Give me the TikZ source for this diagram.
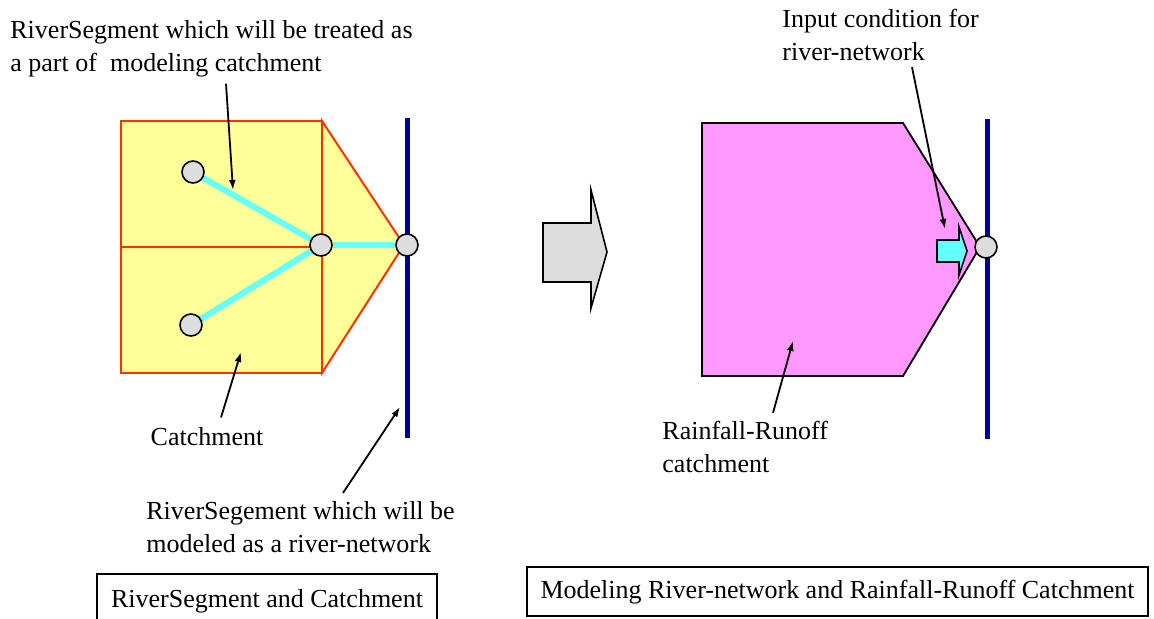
\documentclass[tikz,border=0pt]{standalone}
\usepackage{fontspec}
\setmainfont{Liberation Serif}
\usepackage{tikz}
\usetikzlibrary{arrows, arrows.meta, backgrounds, calc, positioning}

\definecolor{catchyellow}{HTML}{FFFF99}
\definecolor{catchred}{HTML}{FF3300}
\definecolor{streamcyan}{HTML}{66FFFF}
\definecolor{riverblue}{HTML}{000099}
\definecolor{nodegray}{HTML}{DDDDDD}
\definecolor{rrpink}{HTML}{FF99FF}

\begin{document}
\begin{tikzpicture}[
	x=0.5pt, y=-0.5pt,
	every node/.style = {font=\fontsize{13}{16.5}\selectfont},
	catchment area/.style = {draw=catchred, fill=catchyellow, line width=1pt, line join=miter},
	rr area/.style = {draw=black, fill=rrpink, line width=0.9pt},
	river node/.style = {circle, draw=black, fill=nodegray, line width=0.8pt, minimum size=11pt, inner sep=0pt},
	stream line/.style = {draw=streamcyan, line width=3pt},
	main river/.style = {draw=riverblue, line width=2.5pt},
	note/.style = {align=left, inner sep=0pt, anchor=west},
	note arrow/.style = {-{Latex[length=5pt, width=3.5pt]}, line width=0.9pt},
	block arrow/.style = {draw=black, line width=0.8pt, line join=miter},
	caption/.style = {draw=black, line width=0.8pt, inner sep=0pt, text depth=2pt}
]
\useasboundingbox (0,0) rectangle (1154,619);

% left: river segments and catchment
\node[river node] (up) at (193,172) {};
\node[river node] (low) at (191,325) {};
\node[river node] (mid) at (321,245) {};
\node[river node] (out) at (407,245) {};

\begin{scope}[on background layer]
	\draw[catchment area] (121,121) rectangle (322,247);
	\draw[catchment area] (121,247) rectangle (322,373);
	\draw[catchment area] (322,121) -- (404,245) -- (322,373) -- cycle;
	\draw[main river] (407,118) -- (407,438);
	\draw[stream line] (up) -- (mid);
	\draw[stream line] (low) -- (mid);
	\draw[stream line] (mid) -- (out);
\end{scope}

\node[note] (treated) at (10,49) {RiverSegment which will be treated as\\a part of\ \ modeling catchment};
\node[note, anchor=center] (catch) at (207,437) {Catchment};
\node[note] (modeled) at (146,527) {RiverSegement which will be\\modeled as a river-network};

\coordinate (treated tip) at (233,190);
\coordinate (catch tip) at (241,352);
\coordinate (modeled tip) at (400,407);
\draw[note arrow] ($(treated.south west)+(216,6)$) -- (treated tip);
\draw[note arrow] ($(catch.north)+(14,-10)$) -- (catch tip);
\draw[note arrow] ($(modeled.north west)+(197,-8)$) -- (modeled tip);

\node[caption, minimum width=170pt, minimum height=26pt] (left cap) at (267,600) {RiverSegment and Catchment};

% middle: transform arrow
\draw[block arrow, fill=nodegray] (543,223) -- (591,223) -- (591,190) -- (607,252) -- (591,308) -- (591,282) -- (543,282) -- cycle;

% right: modeled river-network and rainfall-runoff catchment
\node[river node] (rr out) at (986,247) {};
\begin{scope}[on background layer]
	\draw[rr area] (702,123) -- (903,123) -- (980,247) -- (903,376) -- (702,376) -- cycle;
	\draw[main river] (987,119) -- (987,439);
\end{scope}
\draw[block arrow, fill=streamcyan] (937,240) -- (959,240) -- (959,227) -- (967,251) -- (959,275) -- (959,262) -- (937,262) -- cycle;

\node[note] (input) at (782,35) {Input condition for\\river-network};
\node[note] (rainfall) at (662,447) {Rainfall-Runoff\\catchment};

\coordinate (input tip) at (945,229);
\coordinate (rainfall tip) at (793,341);
\draw[note arrow] ($(input.south west)+(130,6)$) -- (input tip);
\draw[note arrow] ($(rainfall.north west)+(111,-8)$) -- (rainfall tip);

\node[caption, minimum width=310.5pt, minimum height=24.5pt] (right cap) at (837.5,591.5) {Modeling River-network and Rainfall-Runoff Catchment};
\end{tikzpicture}
\end{document}
